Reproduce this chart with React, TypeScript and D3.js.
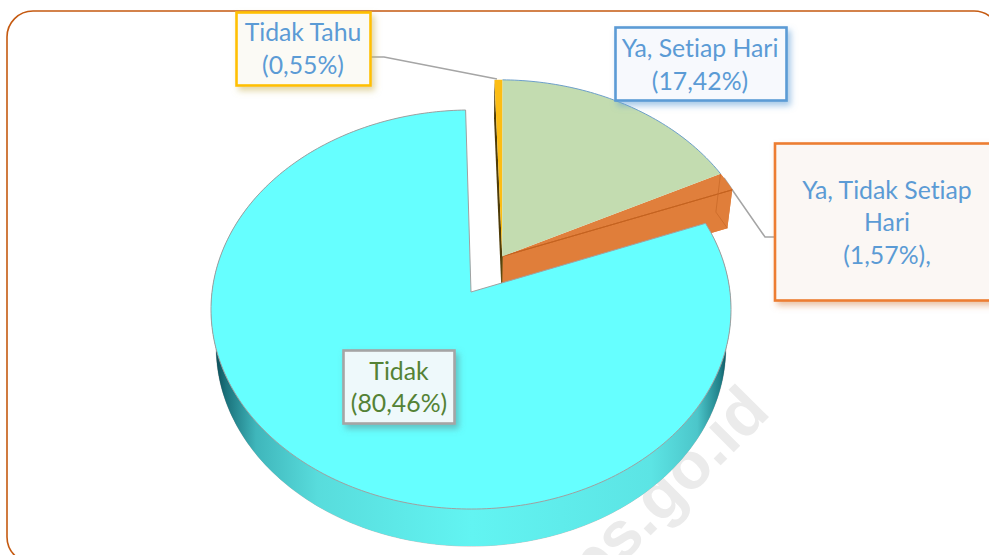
import React from "react";
import * as d3 from "d3";

const categories = ["Tidak Tahu", "Ya, Setiap Hari", "Ya, Tidak Setiap Hari", "Tidak"];
const shares = [0.55, 17.42, 1.57, 80.46];
const explodedFlags = [true, true, true, false];
const topColors = ["#fcbd14", "#c3dcb0", "#e07f3c", "#66ffff"];
const labelLines = [
  ["Tidak Tahu", "(0,55%)"],
  ["Ya, Setiap Hari", "(17,42%)"],
  ["Ya, Tidak Setiap", "Hari", "(1,57%),"],
  ["Tidak", "(80,46%)"],
];
const labelColors = ["#5b9bd5", "#5b9bd5", "#5b9bd5", "#548235"];

const W = 989, H = 555;
const deg = Math.PI / 180;
const CX = 471, CY = 292, RX = 259, AY = 198, BZ = 38.9, PV = 0.0877, QZ = 0.02, EXPLODE = 0.22;
const START = -1.3 * deg;

type Pt = [number, number];
// perspective projection of the tilted pie: u,v on the unit disc, z = 0 top face, 1 bottom face
const project = (u: number, v: number, z: number): Pt => {
  const k = 1 / (1 - PV * v + QZ * z);
  return [CX + RX * u * k, CY + (AY * v + BZ * z) * k];
};

const arcs = d3.pie<number>().sort(null).startAngle(START).endAngle(START + 2 * Math.PI)(shares);
const groupEnd = arcs[2].endAngle;
const groupMid = (START + groupEnd) / 2;
const off = (i: number): Pt => explodedFlags[i] ? [Math.sin(groupMid) * EXPLODE, -Math.cos(groupMid) * EXPLODE] : [0, 0];
const rim = (i: number, a: number, z: number): Pt => {
  const [ox, oy] = off(i);
  return project(ox + Math.sin(a), oy - Math.cos(a), z);
};
const hub = (i: number, z: number): Pt => {
  const [ox, oy] = off(i);
  return project(ox, oy, z);
};
const arcPts = (i: number, z: number): Pt[] => {
  const a0 = arcs[i].startAngle, a1 = arcs[i].endAngle;
  const n = Math.max(2, Math.ceil((a1 - a0) / deg));
  return d3.range(n + 1).map((j) => rim(i, a0 + ((a1 - a0) * j) / n, z));
};
const line = d3.line<Pt>();
const closed = (pts: Pt[]) => (line(pts) as string) + "Z";
const wedge = (i: number, z: number) => closed([hub(i, z), ...arcPts(i, z)]);
const wall = (i: number) => closed([...arcPts(i, 0), ...arcPts(i, 1).reverse()]);
const endWall = (i: number, a: number) => closed([hub(i, 0), rim(i, a, 0), rim(i, a, 1), hub(i, 1)]);

const boxes = [
  { x: 236.5, y: 12.5, w: 134, h: 73, stroke: "#ffc000", fill: "#fbfaf5", shadow: "#c9b458", baselines: [41, 74], cx: 303 },
  { x: 615.5, y: 27.5, w: 171, h: 73, stroke: "#5b9bd5", fill: "#f7f9fd", shadow: "#5b9bd5", baselines: [57, 90], cx: 700 },
  { x: 775, y: 143.5, w: 225, h: 157, stroke: "#ed7d31", fill: "#fbf7f4", shadow: "#d9915f", baselines: [199, 231, 264], cx: 887 },
  { x: 343.5, y: 350.5, w: 111, h: 73, stroke: "#a5a5a5", fill: "#eef9fb", shadow: "#5f8f92", baselines: [380, 412], cx: 399 },
];

export default function App() {
  const iY = 0, iG = 1, iO = 2, iC = 3;
  return (
    <svg width={W} height={H} viewBox={`0 0 ${W} ${H}`} style={{ position: "fixed", left: 0, top: 0, background: "#fff", display: "block" }}>
      <defs>
        <linearGradient id="wallGrad" gradientUnits="userSpaceOnUse" x1={215} x2={728} y1={0} y2={0}>
          <stop offset="0" stopColor="#0b4a55" />
          <stop offset="0.02" stopColor="#1a707a" />
          <stop offset="0.08" stopColor="#3fb6bb" />
          <stop offset="0.2" stopColor="#58dcdc" />
          <stop offset="0.5" stopColor="#62f4f2" />
          <stop offset="0.85" stopColor="#5ce4e4" />
          <stop offset="0.94" stopColor="#4cc6ca" />
          <stop offset="0.985" stopColor="#1f7f88" />
          <stop offset="1" stopColor="#0b4a55" />
        </linearGradient>
        {boxes.map((b, i) => (
          <filter key={i} id={`sh${i}`} x="-20%" y="-20%" width="150%" height="150%">
            <feDropShadow dx="3" dy="4" stdDeviation="3" floodColor={b.shadow} floodOpacity="0.55" />
          </filter>
        ))}
      </defs>
      <rect x={7} y={11} width={993} height={552} rx={26} ry={26} fill="#fff" stroke="#c55a11" strokeWidth={1.6} />
      <text x={0} y={0} transform="translate(772,414) rotate(-45)" textAnchor="end" fontFamily="'Liberation Sans', Arial, sans-serif" fontWeight="700" fontSize={66} fill="#ebebeb">
        www.bps.go.id
      </text>

      {/* leaders */}
      <path d={line([[371, 57], [384, 57], [497, 79]]) as string} fill="none" stroke="#a5a5a5" strokeWidth={1.5} />
      <path d={line([[724, 178], [765, 237], [775, 237]]) as string} fill="none" stroke="#a5a5a5" strokeWidth={1.5} />

      {/* cyan body */}
      <path d={wedge(iC, 1)} fill="url(#wallGrad)" stroke="#a8a8a8" strokeWidth={0.6} />
      <path d={wall(iC)} fill="url(#wallGrad)" />

      {/* exploded slices */}
      <path d={wedge(iO, 1)} fill="#de7c38" />
      <path d={wall(iO)} fill="#e2813e" />
      <path d={endWall(iO, arcs[iO].endAngle)} fill="#e07e3a" />
      <path d={wedge(iO, 0)} fill={topColors[iO]} />
      <path d={closed([hub(iO, 0), rim(iO, arcs[iO].endAngle, 0)])} fill="none" stroke="#c4621f" strokeWidth={1} />
      <path d={line([rim(iO, arcs[iO].startAngle, 0), rim(iO, arcs[iO].startAngle, 1), rim(iO, arcs[iO].endAngle, 1)]) as string} fill="none" stroke="#c96a28" strokeWidth={0.8} />
      <path d={endWall(iY, arcs[iY].startAngle)} fill="#4e3c08" />
      <path d={wedge(iY, 0)} fill={topColors[iY]} />
      <path d={line([hub(iY, 0), hub(iY, 1)]) as string} stroke="#6b5410" strokeWidth={1} />
      <path d={wedge(iG, 0)} fill={topColors[iG]} />
      <path d={line(arcPts(iG, 0)) as string} fill="none" stroke="#6d9fc9" strokeWidth={1} />

      {/* cyan top */}
      <path d={wedge(iC, 0)} fill={topColors[iC]} stroke="#a0a0a0" strokeWidth={1} strokeLinejoin="round" />

      {/* labels */}
      {boxes.map((b, i) => (
        <g key={categories[i]}>
          <rect x={b.x} y={b.y} width={b.w} height={b.h} fill={b.fill} stroke={b.stroke} strokeWidth={2.6} filter={`url(#sh${i})`} />
          {labelLines[i].map((t, j) => (
            <text key={j} x={b.cx} y={b.baselines[j]} textAnchor="middle" fontFamily="Lato, 'Noto Sans', sans-serif" fontSize={24.8} style={{ fontVariantLigatures: "none" }} fill={labelColors[i]}>
              {t}
            </text>
          ))}
        </g>
      ))}
    </svg>
  );
}
